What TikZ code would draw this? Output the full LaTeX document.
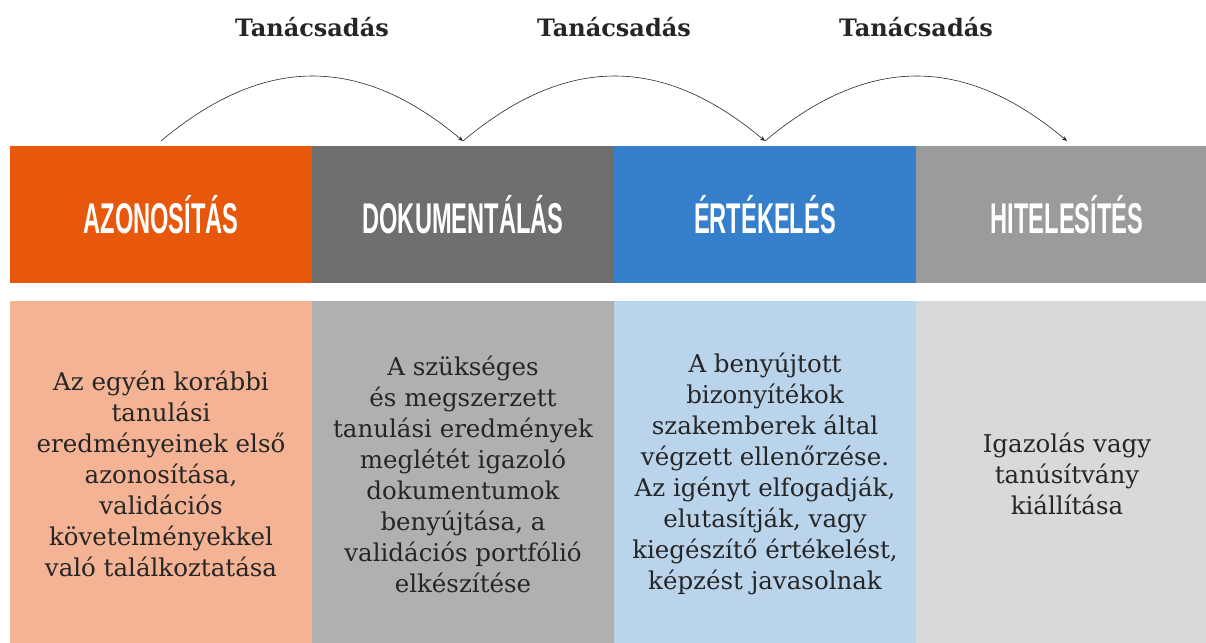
\documentclass[tikz,border=0pt]{standalone}
\usepackage{fontspec}
\setmainfont{DejaVu Serif}
\newfontfamily\headfont{Liberation Sans}[FakeStretch=0.55]
\usetikzlibrary{positioning,arrows.meta}

\definecolor{azonhead}{HTML}{E8580C}
\definecolor{azonbody}{HTML}{F3B394}
\definecolor{dokuhead}{HTML}{6F6F6E}
\definecolor{dokubody}{HTML}{B0B0B0}
\definecolor{ertehead}{HTML}{3680CB}
\definecolor{ertebody}{HTML}{BAD4EC}
\definecolor{hitehead}{HTML}{9B9B9B}
\definecolor{hitebody}{HTML}{D9D9D9}
\definecolor{textgray}{HTML}{262626}

\begin{document}
\begin{tikzpicture}[x=1pt,y=1pt]
  \clip (0,0) rectangle (1206,642);
  \begin{scope}[
    every node/.style={
      rectangle,
      outer sep=0pt,
      inner sep=0pt,
      minimum width=302pt,
    },
    headbox/.style={
      minimum height=137pt,
      text=white,
      font=\headfont\bfseries\fontsize{43}{43}\selectfont,
    },
    bodybox/.style={
      minimum height=346pt,
      text=textgray,
      align=center,
      font=\fontsize{24.5}{31}\selectfont,
    },
    ]
    % Azonositas
    \node [headbox,fill=azonhead] (azon) at (161,427.5) {AZONOSÍTÁS};
    \node [bodybox,fill=azonbody,below=18pt of azon] (azonT)
    {Az egyén korábbi\\
      tanulási\\
      eredményeinek első\\
      azonosítása,\\
      validációs\\
      követelményekkel\\
      való találkoztatása};

    % Dokumentalas
    \node [headbox,fill=dokuhead,right=0pt of azon] (doku) {DOKUMENTÁLÁS};
    \node [bodybox,fill=dokubody,below=18pt of doku] (dokuT)
    {A szükséges\\
      és megszerzett\\
      tanulási eredmények\\
      meglétét igazoló\\
      dokumentumok\\
      benyújtása, a\\
      validációs portfólió\\
      elkészítése};

    % Ertekeles
    \node [headbox,fill=ertehead,right=0pt of doku] (erte) {ÉRTÉKELÉS};
    \node [bodybox,fill=ertebody,below=18pt of erte] (erteT)
    {A benyújtott\\
      bizonyítékok\\
      szakemberek által\\
      végzett ellenőrzése.\\
      Az igényt elfogadják,\\
      elutasítják, vagy\\
      kiegészítő értékelést,\\
      képzést javasolnak};

    % Hitelesites
    \node [headbox,fill=hitehead,right=0pt of erte] (hite) {HITELESÍTÉS};
    \node [bodybox,fill=hitebody,below=18pt of hite] (hiteT)
    {Igazolás vagy\\
      tanúsítvány\\
      kiállítása};
  \end{scope}
  \begin{scope}[
    myarrow/.style={
      -{Stealth[length=5pt,width=4pt]},
      line width=0.6pt,
      draw=textgray,
    },
    arclabel/.style={
      inner sep=0pt,
      text=textgray,
      font=\bfseries\fontsize{24}{24}\selectfont,
    },
    ]
    % Tanacsadas arcs
    \draw [myarrow] ([yshift=5pt]azon.north) to [out=40,in=140,looseness=1.14]
      node [above=39pt,arclabel] {Tanácsadás} ([yshift=5pt]doku.north);
    \draw [myarrow] ([yshift=5pt]doku.north) to [out=40,in=140,looseness=1.14]
      node [above=39pt,arclabel] {Tanácsadás} ([yshift=5pt]erte.north);
    \draw [myarrow] ([yshift=5pt]erte.north) to [out=40,in=140,looseness=1.14]
      node [above=39pt,arclabel] {Tanácsadás} ([yshift=5pt]hite.north);
  \end{scope}
\end{tikzpicture}
\end{document}
